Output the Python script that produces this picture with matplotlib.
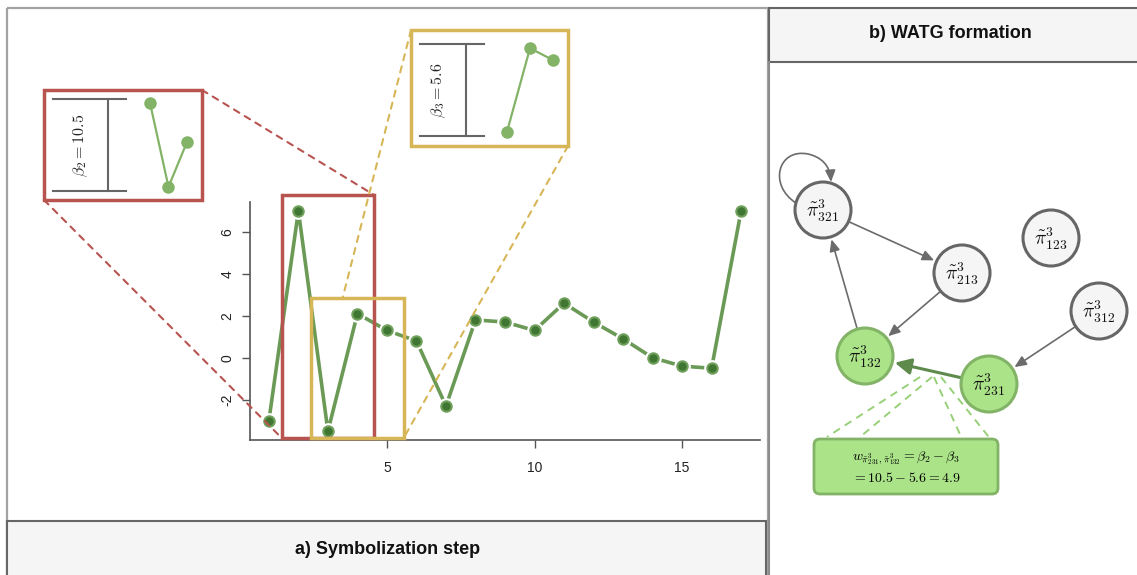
import numpy as np
import matplotlib.pyplot as plt
from matplotlib.patches import Rectangle, FancyBboxPatch, Circle, FancyArrowPatch, ConnectionPatch
from matplotlib.path import Path

plt.rcParams['font.family'] = ['Liberation Sans', 'DejaVu Sans']
plt.rcParams['mathtext.fontset'] = 'cm'
plt.rcParams['axes.unicode_minus'] = False

# time series to be symbolized
t = np.arange(1, 18)
series = [-3.0, 7.0, -3.5, 2.1, 1.3, 0.8, -2.3, 1.8, 1.7, 1.3, 2.6, 1.7, 0.9, 0.0, -0.4, -0.5, 7.0]
x_ticks = [5, 10, 15]
y_ticks = [-2, 0, 2, 4, 6]

# sliding windows (1-based start) highlighted in the zoom boxes
windows = [2, 3]
win_len = 3
win_colors = ['#b85450', '#d6b656']

# transition graph
node_names = ['321', '213', '123', '312', '132', '231']
active_nodes = ['132', '231']
edges = [('321', '213'), ('213', '132'), ('132', '321'), ('312', '231')]
self_loops = ['321']
weighted_edge = ('231', '132')

W, H = 1137, 575
fig = plt.figure(figsize=(W / 100, H / 100), dpi=100)

canvas = fig.add_axes([0, 0, 1, 1])
canvas.set_xlim(0, W)
canvas.set_ylim(H, 0)
canvas.axis('off')
canvas.set_zorder(0)


def px_axes(x0, y0, x1, y1):
    return fig.add_axes([x0 / W, 1 - y1 / H, (x1 - x0) / W, (y1 - y0) / H])


# panel frames
canvas.add_patch(Rectangle((7, 8), 761, 600, fill=False, ec='#a3a3a3', lw=1.6))
canvas.add_patch(Rectangle((7, 521), 759, 80, fc='#f5f5f5', ec='#666666', lw=1.5))
canvas.text(388, 549, 'a) Symbolization step', ha='center', va='center',
            fontsize=13, fontweight='bold', color='#111111')
canvas.add_patch(Rectangle((769, 8), 400, 54, fc='#f5f5f5', ec='#666666', lw=1.5))
canvas.plot([769, 769], [62, H], color='#8c8c8c', lw=1.5)
canvas.text(950, 34, 'b) WATG formation', ha='center', va='center',
            fontsize=13, fontweight='bold', color='#111111')

# ---- a) the series ----
ax = px_axes(250, 202, 760, 440)
ax.set_zorder(1)
ax.patch.set_alpha(0)
ax.plot(t, series, color='#6a9a56', lw=2.6, zorder=2)
ax.plot(t, series, 'o', ms=11, color='white', zorder=3)
ax.plot(t, series, 'o', ms=7.5, mfc='#3f7632', mec='#6fa05c', mew=1.5, zorder=4)

xpad = 0.04 * (t.max() - t.min())
ypad = 0.04 * (max(series) - min(series))
ax.set_xlim(t.min() - xpad, t.max() + xpad)
ax.set_ylim(min(series) - ypad, max(series) + ypad)
ax.set_xticks(x_ticks)
ax.set_yticks(y_ticks)
for s in ['top', 'right']:
    ax.spines[s].set_visible(False)
for s in ['left', 'bottom']:
    ax.spines[s].set_color('#555555')
    ax.spines[s].set_linewidth(1.2)
ax.tick_params(length=6, width=1, color='#555555', labelsize=10, labelcolor='#222222')
ax.tick_params(axis='x', pad=9)
ax.tick_params(axis='y', pad=5)
for lab in ax.get_yticklabels():
    lab.set_rotation(90)
    lab.set_va('center')

# zoom boxes around each window, with the blown-up view above
inset_frames = [(44, 90, 202, 200), (411, 30, 568, 146)]
inset_plots = [(53, 99, 197, 191), (420, 44, 564, 136)]
# first point, step, bracket width, bracket stem, label (fractions of the inset)
inset_layout = [(0.674, 0.128, 0.507, 0.38, 0.195), (0.604, 0.16, 0.444, 0.32, 0.13)]
# connector anchors: (inset fx, fy) -> (box fx, fy), y measured upward
links = [[((1, 1), (1, 1)), ((0, 0), (0, 0))],
         [((0, 1), (0.34, 1)), ((1, 0), (1, 0))]]

ylo = ax.get_ylim()[0]
betas = {}
for w, c, fr, ip, lay, lk in zip(windows, win_colors, inset_frames, inset_plots, inset_layout, links):
    idx = np.arange(w, w + win_len)
    vals = series[w - 1:w - 1 + win_len]
    lo, hi = min(vals), max(vals)
    beta = hi - lo
    betas[w] = beta

    bx0, bx1 = w - 0.57, w + win_len - 1 + 0.57
    by0, by1 = ylo + 0.1, hi + 0.75
    ax.add_patch(Rectangle((bx0, by0), bx1 - bx0, by1 - by0, fill=False, ec=c,
                           lw=2.5, zorder=5, clip_on=False))

    fx0, fy0, fx1, fy1 = fr
    canvas.add_patch(Rectangle((fx0, fy0), fx1 - fx0, fy1 - fy0, fc='white', ec=c, lw=2.5))

    for (ia_, ib_) in lk:
        pa = (fx0 + ia_[0] * (fx1 - fx0), fy1 - ia_[1] * (fy1 - fy0))
        pb = (bx0 + ib_[0] * (bx1 - bx0), by0 + ib_[1] * (by1 - by0))
        con = ConnectionPatch(pa, pb, coordsA=canvas.transData, coordsB=ax.transData,
                              color=c, lw=1.5, ls=(0, (3, 3)), zorder=2)
        fig.add_artist(con)

    first, step, bw, bv, tx = lay
    ia = px_axes(*ip)
    ia.set_zorder(3)
    ia.axis('off')
    left = w - first / step
    ia.set_xlim(left, left + 1 / step)
    pad = 0.05 * beta
    ia.set_ylim(lo - pad, hi + pad)
    tr = ia.get_yaxis_transform()
    br = dict(color='#666666', lw=1.5, transform=tr, clip_on=False)
    ia.plot([0, bw], [hi + pad] * 2, **br)
    ia.plot([0, bw], [lo - pad] * 2, **br)
    ia.plot([bv, bv], [lo - pad, hi + pad], **br)
    ia.text(tx, (lo + hi) / 2, rf'$\beta_{w} = {beta:.1f}$', rotation=90, transform=tr,
            ha='center', va='center', fontsize=11.5, color='#222222')
    ia.plot(idx, vals, color='#82b366', lw=1.6, marker='o', ms=9, mec='none', clip_on=False)

# ---- b) the graph ----
node_xy = {'321': (823, 210), '213': (962, 273), '123': (1051, 238),
           '312': (1099, 311), '132': (865, 356), '231': (989, 384)}
R = 28

for n in node_names:
    x, y = node_xy[n]
    on = n in active_nodes
    canvas.add_patch(Circle((x, y), R, fc='#abe389' if on else '#f5f5f5',
                            ec='#82b366' if on else '#666666', lw=2.2, zorder=3))
    canvas.text(x, y + 1, rf'$\tilde{{\pi}}^3_{{{n}}}$', ha='center', va='center',
                fontsize=14, color='#111111', zorder=4)

arrow = '-|>,head_length=0.5,head_width=0.22'
for a, b in edges:
    canvas.add_patch(FancyArrowPatch(node_xy[a], node_xy[b], arrowstyle=arrow,
                                     mutation_scale=14, shrinkA=21, shrinkB=22,
                                     color='#6b6b6b', lw=1.2, zorder=2))

for n in self_loops:
    x, y = node_xy[n]
    verts = [(x - 27, y - 7), (x - 55, y - 25), (x - 45, y - 62), (x - 15, y - 56),
             (x - 2, y - 53), (x + 7, y - 45), (x + 8, y - 28)]
    codes = [Path.MOVETO] + [Path.CURVE4] * 6
    canvas.add_patch(FancyArrowPatch(path=Path(verts, codes), arrowstyle=arrow,
                                     mutation_scale=14, color='#6b6b6b', lw=1.2, zorder=2))

a, b = weighted_edge
canvas.add_patch(FancyArrowPatch(node_xy[a], node_xy[b], arrowstyle='-|>,head_length=0.6,head_width=0.3',
                                 mutation_scale=16, shrinkA=21, shrinkB=22,
                                 color='#5e8a4c', lw=2.2, zorder=2))

# weight callout
mx = (node_xy[a][0] + node_xy[b][0]) / 2 + 5
my = (node_xy[a][1] + node_xy[b][1]) / 2 + 5
wb = (814, 439, 998, 494)
for off, f in zip([-12, 0, 2, 9], [0.07, 0.25, 0.80, 0.95]):
    canvas.plot([mx + off, wb[0] + f * (wb[2] - wb[0])], [my + 2, wb[1] - 2],
                color='#97d077', lw=1.4, ls=(0, (4, 3)), zorder=1)
canvas.add_patch(FancyBboxPatch((wb[0], wb[1]), wb[2] - wb[0], wb[3] - wb[1],
                                boxstyle='round,pad=0,rounding_size=6',
                                fc='#abe389', ec='#82b366', lw=2, zorder=3))
b2, b3 = betas[windows[0]], betas[windows[1]]
wc = (wb[0] + wb[2]) / 2
canvas.text(wc, 458, r'$w_{\tilde{\pi}^3_{231},\tilde{\pi}^3_{132}} = \beta_2 - \beta_3$',
            ha='center', va='center', fontsize=10, zorder=4)
canvas.text(wc, 478, rf'$= {b2:.1f} - {b3:.1f} = {b2 - b3:.1f}$',
            ha='center', va='center', fontsize=10, zorder=4)

fig.savefig('out.png', dpi=100)
